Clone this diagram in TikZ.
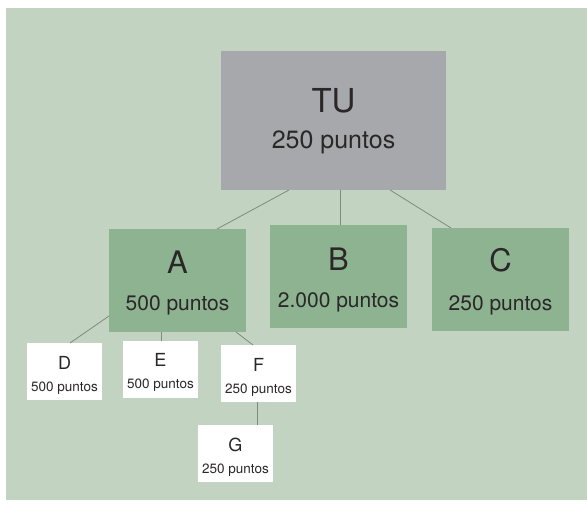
\documentclass[tikz,border=0pt]{standalone}
\usepackage{fontspec}
\setmainfont{TeX Gyre Heros}
\usetikzlibrary{calc}
\definecolor{bgc}{HTML}{C2D4C1}
\definecolor{grayc}{HTML}{A7A8AC}
\definecolor{greenc}{HTML}{8DB391}
\definecolor{linec}{HTML}{7F8A82}
\definecolor{txtc}{HTML}{2A2728}
\tikzset{
  box/.style={anchor=north west, inner sep=0, outer sep=0, draw=none},
  bigbox/.style={box, minimum width=137pt, minimum height=103pt, fill=greenc},
  smallbox/.style={box, minimum width=75pt, minimum height=57pt, fill=white},
  conn/.style={draw=linec, line width=0.8pt},
  lbl/.style={anchor=base, inner sep=0, text=txtc},
}
\newcommand{\fs}[1]{\fontsize{#1}{#1}\selectfont}
\begin{document}
\begin{tikzpicture}[x=1pt, y=-1pt]
\fill[white] (0,0) rectangle (587,508);
\useasboundingbox (0,0) rectangle (587,508);
\fill[bgc] (6,8) rectangle (587,500);

\node[box, minimum width=225pt, minimum height=139pt, fill=grayc] (TU) at (221,51) {};
\node[bigbox] (A) at (109,229) {};
\node[bigbox] (B) at (270,225) {};
\node[bigbox] (C) at (432,228) {};
\node[smallbox] (D) at (27,343) {};
\node[smallbox] (E) at (123,341) {};
\node[smallbox] (F) at (221,345) {};
\node[smallbox] (G) at (198,425) {};

% labels
\node[lbl] (TUt) at ($(TU.north)+(0,62)$) {\fs{33}TU};
\node[lbl] (TUp) at ($(TU.north)+(0,98)$) {\fs{25}250 puntos};
\node[lbl] (At) at ($(A.north)+(0,44)$) {\fs{31}A};
\node[lbl] (Ap) at ($(A.north)+(0,81)$) {\fs{21}500 puntos};
\node[lbl] (Bt) at ($(B.north)+(0,45)$) {\fs{31}B};
\node[lbl] (Bp) at ($(B.north)+(0,82)$) {\fs{21}2.000 puntos};
\node[lbl] (Ct) at ($(C.north)+(0,44)$) {\fs{31}C};
\node[lbl] (Cp) at ($(C.north)+(0,82)$) {\fs{21}250 puntos};
\node[lbl] (Dt) at ($(D.north)+(0,26)$) {\fs{18}D};
\node[lbl] (Dp) at ($(D.north)+(0,48)$) {\fs{13.5}500 puntos};
\node[lbl] (Et) at ($(E.north)+(0,25)$) {\fs{18}E};
\node[lbl] (Ep) at ($(E.north)+(0,47)$) {\fs{13.5}500 puntos};
\node[lbl] (Ft) at ($(F.north)+(0,26)$) {\fs{18}F};
\node[lbl] (Fp) at ($(F.north)+(0,48)$) {\fs{13.5}250 puntos};
\node[lbl] (Gt) at ($(G.north)+(0,26)$) {\fs{18}G};
\node[lbl] (Gp) at ($(G.north)+(0,48)$) {\fs{13.5}250 puntos};

% connectors
\draw[conn] ($(TU.south west)+(68,0)$) -- ($(A.north west)+(108,0)$);
\draw[conn] ($(TU.south west)+(119,0)$) -- ($(B.north west)+(70,0)$);
\draw[conn] ($(TU.south west)+(169,0)$) -- ($(C.north west)+(19,0)$);
\draw[conn] ($(A.north west)+(0,87)$) -- ($(D.north west)+(43,0)$);
\draw[conn] ($(A.south west)+(52,0)$) -- ($(E.north west)+(38,0)$);
\draw[conn] ($(A.south west)+(127,0)$) -- ($(F.north west)+(32,0)$);
\draw[conn] ($(F.south west)+(36,0)$) -- ($(G.north west)+(59,0)$);
\end{tikzpicture}
\end{document}
